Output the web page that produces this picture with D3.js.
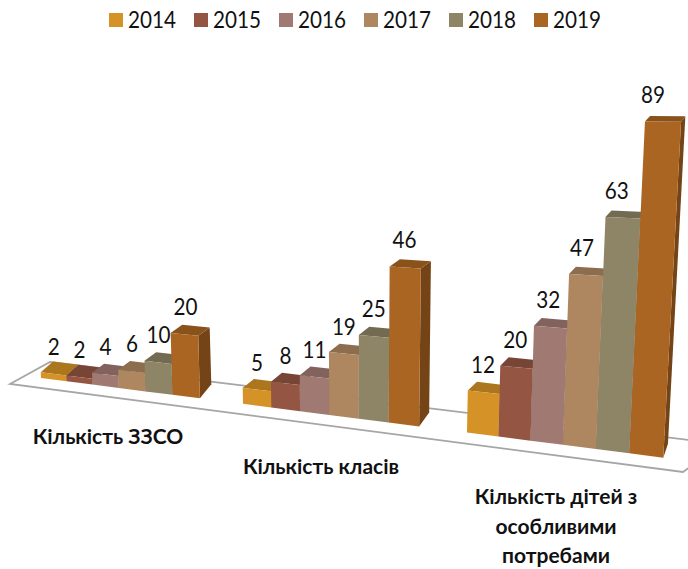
<!DOCTYPE html>
<html lang="uk">
<head>
    <meta charset="UTF-8">
    <title>Кількість ЗЗСО, класів, дітей</title>
    <script src="https://d3js.org/d3.v7.min.js"></script>
    <style>
        html, body { margin: 0; padding: 0; background: #fff; }
        text { font-family: Lato, "Noto Sans", sans-serif; fill: #111; }
    </style>
</head>
<body>
    <div id="chart"></div>
    <script>
        var years = ["2014", "2015", "2016", "2017", "2018", "2019"];
        var categories = [
            ["Кількість ЗЗСО"],
            ["Кількість класів"],
            ["Кількість дітей з", "особливими", "потребами"]
        ];
        var schoolCounts = [2, 2, 4, 6, 10, 20];
        var classCounts = [5, 8, 11, 19, 25, 46];
        var childCounts = [12, 20, 32, 47, 63, 89];
        var seriesByCategory = [schoolCounts, classCounts, childCounts];
        var yearColors = ["#d59226", "#945642", "#a07a72", "#ae8760", "#8d8565", "#ab6522"];

        var width = 688, height = 569;
        var digitWidth = 12; // Lato digits squeezed a little, the picture has a narrower face

        var svg = d3.select("#chart").append("svg")
            .attr("width", width)
            .attr("height", height)
            .style("display", "block");

        // the bars are drawn in a faked 3d perspective, fitted by eye to the picture
        var band = d3.scaleBand().domain(years).range([0, 0.795]);
        var pxPerUnit = d3.scaleLinear().domain([0, 688]).range([2.85, 3.81]);
        var depthX = d3.scaleLinear().domain([100, 430, 650]).range([12, 10, 5]);
        var depthY = d3.scaleLinear().domain([0, 3, 89]).range([-14, -9, -5.5]);
        var vanish = [354, 6300];

        function floorX(u) { return (190.07 * u + 41) / (1 - 0.0491 * u); }
        function floorY(x) { return 378 + 0.128 * (x - 41); }

        // screen point over the floor position u, raised to value v
        function front(u, v) {
            var x = floorX(u), y = floorY(x);
            var h = v * pxPerUnit(x);
            return [x + h * (x - vanish[0]) / (vanish[1] - y), y - h];
        }
        function back(p, v) {
            return [p[0] + depthX(p[0]), p[1] + depthY(v)];
        }
        function path(pts) { return "M" + pts.join("L") + "Z"; }

        // floor plate
        svg.append("path")
            .attr("d", path([[10, 384], [50, 362], [722, 444], [683, 472]]))
            .attr("fill", "#fff")
            .attr("stroke", "#a6a6a6")
            .attr("stroke-width", 1.8);

        var bars = [];
        seriesByCategory.forEach(function (values, c) {
            values.forEach(function (v, i) {
                bars.push({ group: c, year: years[i], color: yearColors[i], value: v });
            });
        });

        var bar = svg.append("g").selectAll("g")
            .data(bars)
            .enter().append("g");

        function corners(d) {
            var u0 = d.group + band(d.year), u1 = u0 + band.bandwidth();
            return {
                bl: front(u0, 0), br: front(u1, 0),
                tl: front(u0, d.value), tr: front(u1, d.value),
                um: (u0 + u1) / 2
            };
        }

        bar.append("path") // right side
            .attr("d", function (d) {
                var k = corners(d);
                return path([k.br, k.tr, back(k.tr, d.value), back(k.br, 0)]);
            })
            .attr("fill", function (d) { return d3.rgb(d.color).darker(1.1); });

        bar.append("path") // top
            .attr("d", function (d) {
                var k = corners(d);
                return path([k.tl, k.tr, back(k.tr, d.value), back(k.tl, d.value)]);
            })
            .attr("fill", function (d) { return d3.rgb(d.color).darker(0.6); });

        bar.append("path") // front
            .attr("d", function (d) {
                var k = corners(d);
                return path([k.bl, k.br, k.tr, k.tl]);
            })
            .attr("fill", function (d) { return d.color; });

        svg.append("g").selectAll("text")
            .data(bars)
            .enter().append("text")
            .attr("text-anchor", "middle")
            .attr("dominant-baseline", "central")
            .attr("font-size", 23)
            .attr("textLength", function (d) { return String(d.value).length * digitWidth; })
            .attr("lengthAdjust", "spacingAndGlyphs")
            .attr("x", function (d) {
                var k = corners(d), base = floorX(k.um);
                return base + (front(k.um, d.value)[0] - base) * 0.4;
            })
            .attr("y", function (d) { return front(corners(d).um, d.value)[1] - 28; })
            .text(function (d) { return d.value; });

        // category labels
        var labelX = [108, 321, 556], labelY = [437, 467, 497];
        svg.append("g").selectAll("text")
            .data(categories)
            .enter().append("text")
            .attr("text-anchor", "middle")
            .attr("font-size", 21)
            .attr("font-weight", "bold")
            .each(function (lines, c) {
                d3.select(this).selectAll("tspan")
                    .data(lines)
                    .enter().append("tspan")
                    .attr("x", labelX[c])
                    .attr("y", function (l, i) { return labelY[c] + i * 29.5 + 7; })
                    .text(function (l) { return l; });
            });

        // legend
        var legendX = d3.scalePoint().domain(years).range([109, 534]);
        var legend = svg.append("g").selectAll("g")
            .data(years)
            .enter().append("g")
            .attr("transform", function (d) { return "translate(" + legendX(d) + ",13)"; });

        legend.append("rect")
            .attr("width", 14)
            .attr("height", 14)
            .attr("fill", function (d, i) { return yearColors[i]; });

        legend.append("text")
            .attr("x", 19)
            .attr("y", 6)
            .attr("dominant-baseline", "central")
            .attr("font-size", 23)
            .attr("textLength", 4 * digitWidth)
            .attr("lengthAdjust", "spacingAndGlyphs")
            .text(function (d) { return d; });
    </script>
</body>
</html>
